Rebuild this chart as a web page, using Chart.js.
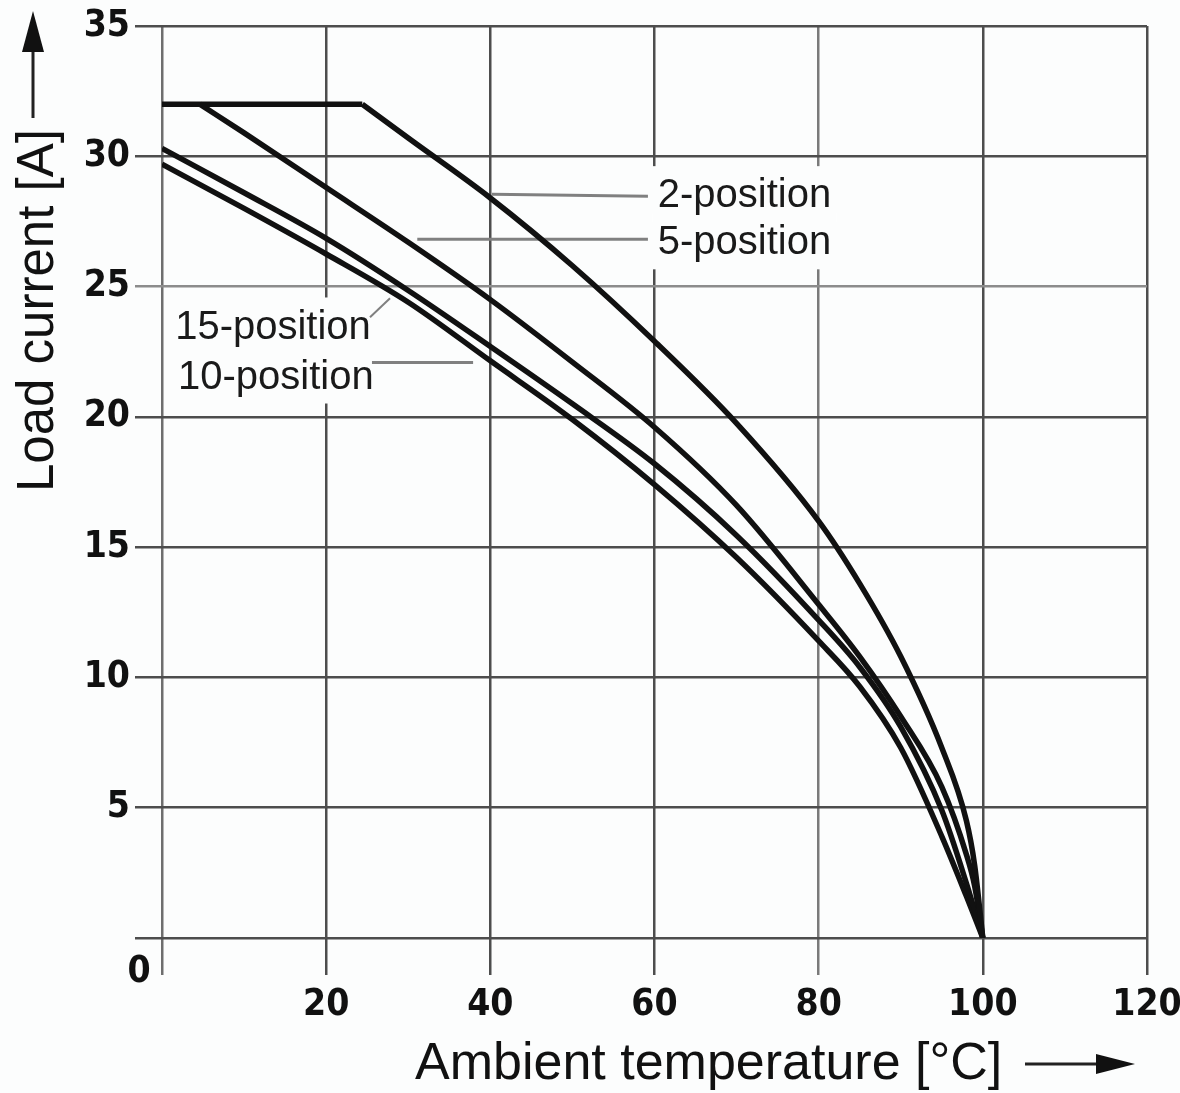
<!DOCTYPE html>
<html>
<head>
<meta charset="utf-8">
<script src="https://cdn.jsdelivr.net/npm/chart.js@4.4.1/dist/chart.umd.min.js"></script>
<style>
  html, body { margin: 0; padding: 0; background: #fcfdfd; }
  #myChart { display: block; }
</style>
</head>
<body>
<canvas id="myChart" width="1180" height="1093"></canvas>
<script>
// axis ranges
const xMin = 0, xMax = 120, xStep = 20;
const yMin = 0, yMax = 35, yStep = 5;

// current cap (flat part shared by 2- and 5-position)
const capX = [0, 24.4];
const capY = [32, 32];

// derating curves
const pos2X = [24.4, 30, 40, 50, 60, 70, 80, 85, 90, 95, 98, 99, 100];
const pos2Y = [32, 30.7, 28.4, 25.8, 22.9, 19.75, 16.0, 13.6, 10.8, 7.3, 4.5, 2.8, 0];

const pos5X = [4.6, 10, 20, 30, 40, 50, 60, 70, 80, 85, 90, 95, 98, 99, 100];
const pos5Y = [32, 30.9, 28.8, 26.7, 24.5, 22.1, 19.6, 16.6, 12.8, 10.8, 8.5, 5.8, 3.2, 2.0, 0];

const pos10X = [0, 10, 20, 30, 40, 50, 60, 70, 80, 85, 90, 95, 98, 100];
const pos10Y = [30.3, 28.6, 26.85, 24.85, 22.7, 20.5, 18.2, 15.45, 12.2, 10.4, 8.1, 4.9, 2.1, 0];

const pos15X = [0, 10, 20, 30, 40, 50, 60, 70, 80, 85, 90, 95, 98, 100];
const pos15Y = [29.7, 28.0, 26.25, 24.4, 22.15, 19.9, 17.4, 14.6, 11.4, 9.65, 7.3, 3.9, 1.6, 0];

// curve labels and their leader lines (data coordinates)
const labelNames = ['2-position', '5-position', '15-position', '10-position'];
const labelX = [60.4, 60.4, 1.6, 1.95];
const labelY = [28.47, 26.66, 23.43, 21.51];
const leadX0 = [40.2, 31.1, 25.34, 25.58];
const leadY0 = [28.54, 26.82, 23.82, 22.09];
const leadX1 = [59.2, 59.2, 27.78, 37.9];
const leadY1 = [28.47, 26.82, 24.55, 22.09];

const xTitle = 'Ambient temperature [°C]';
const yTitle = 'Load current [A]';

function pts(xs, ys) {
    return xs.map((x, i) => ({ x: x, y: ys[i] }));
}

const tickFont = {
    family: "'Liberation Sans Narrow', 'DejaVu Sans Condensed', 'Arial Narrow', sans-serif",
    size: 37,
    weight: 'bold'
};

function curve(data, smooth) {
    return {
        data: data,
        borderColor: '#111111',
        borderWidth: 5.5,
        pointRadius: 0,
        fill: false,
        tension: 0,
        cubicInterpolationMode: smooth ? 'monotone' : 'default',
        borderJoinStyle: 'round'
    };
}

const decorations = {
    id: 'decorations',
    beforeDatasetsDraw(chart) {
        const ctx = chart.ctx;
        const xs = chart.scales.x, ys = chart.scales.y;
        ctx.save();
        ctx.font = "40px 'Liberation Sans', Arial, sans-serif";
        // white boxes behind labels
        ctx.fillStyle = '#fcfdfd';
        labelNames.forEach((t, i) => {
            const px = xs.getPixelForValue(labelX[i]);
            const py = ys.getPixelForValue(labelY[i]);
            const w = ctx.measureText(t).width;
            ctx.fillRect(px - 5, py - 30, w + 10, 56);
        });
        // leader lines
        ctx.strokeStyle = '#808080';
        labelNames.forEach((t, i) => {
            ctx.lineWidth = i === 2 ? 2 : 3;
            ctx.beginPath();
            ctx.moveTo(xs.getPixelForValue(leadX0[i]), ys.getPixelForValue(leadY0[i]));
            ctx.lineTo(xs.getPixelForValue(leadX1[i]), ys.getPixelForValue(leadY1[i]));
            ctx.stroke();
        });
        // label text
        ctx.fillStyle = '#1a1a1a';
        ctx.textAlign = 'left';
        ctx.textBaseline = 'middle';
        labelNames.forEach((t, i) => {
            ctx.fillText(t, xs.getPixelForValue(labelX[i]), ys.getPixelForValue(labelY[i]));
        });
        ctx.restore();
    },
    afterDraw(chart) {
        const ctx = chart.ctx;
        const xs = chart.scales.x, ys = chart.scales.y;
        ctx.save();
        // origin label
        ctx.font = 'bold 37px ' + tickFont.family;
        ctx.fillStyle = '#111';
        ctx.textAlign = 'center';
        ctx.textBaseline = 'middle';
        ctx.fillText('0', xs.getPixelForValue(0) - 23, ys.getPixelForValue(0) + 34);

        // axis titles
        ctx.font = "52px 'Liberation Sans', Arial, sans-serif";
        ctx.textAlign = 'left';
        ctx.textBaseline = 'alphabetic';
        ctx.fillText(xTitle, 415, 1079);
        ctx.save();
        ctx.font = "51px 'Liberation Sans', Arial, sans-serif";
        ctx.translate(53, 492);
        ctx.rotate(-Math.PI / 2);
        ctx.fillText(yTitle, 0, 0);
        ctx.restore();

        // arrows
        ctx.strokeStyle = '#222';
        ctx.lineWidth = 3;
        ctx.beginPath();
        ctx.moveTo(33, 118);
        ctx.lineTo(33, 48);
        ctx.moveTo(1025, 1064);
        ctx.lineTo(1100, 1064);
        ctx.stroke();
        ctx.fillStyle = '#111';
        ctx.beginPath();
        ctx.moveTo(33, 11);
        ctx.lineTo(22, 52);
        ctx.lineTo(44, 52);
        ctx.closePath();
        ctx.fill();
        ctx.beginPath();
        ctx.moveTo(1135, 1064);
        ctx.lineTo(1096, 1054);
        ctx.lineTo(1096, 1074);
        ctx.closePath();
        ctx.fill();
        ctx.restore();
    }
};

let myChart = document.getElementById('myChart').getContext('2d');

let deratingChart = new Chart(myChart, {
    type: 'line',
    data: {
        datasets: [
            curve(pts(capX, capY), false),
            curve(pts(pos2X, pos2Y), true),
            curve(pts(pos5X, pos5Y), true),
            curve(pts(pos10X, pos10Y), true),
            curve(pts(pos15X, pos15Y), true)
        ]
    },
    options: {
        responsive: false,
        animation: false,
        devicePixelRatio: 1,
        layout: {
            padding: { top: 26, right: 33, left: 0, bottom: 0 }
        },
        plugins: {
            legend: { display: false },
            tooltip: { enabled: false }
        },
        scales: {
            x: {
                type: 'linear',
                min: xMin,
                max: xMax,
                afterFit(scale) {
                    scale.height = 155;
                    scale.paddingLeft = 0;
                    scale.paddingRight = 0;
                },
                border: { display: false },
                grid: {
                    color: c => (c.tick && c.tick.value === 80) ? '#7a7a7a' : (c.tick && c.tick.value === 0 ? '#6e6e6e' : '#4d4d4d'),
                    lineWidth: 2.5,
                    tickLength: 37
                },
                ticks: {
                    stepSize: xStep,
                    padding: 8,
                    color: '#111',
                    font: tickFont,
                    maxRotation: 0,
                    callback: v => v === 0 ? '' : v
                }
            },
            y: {
                type: 'linear',
                min: yMin,
                max: yMax,
                afterFit(scale) {
                    scale.width = 162;
                    scale.paddingTop = 0;
                    scale.paddingBottom = 0;
                },
                border: { display: false },
                grid: {
                    color: c => (c.tick && c.tick.value === 25) ? '#8c8c8c' : '#4d4d4d',
                    lineWidth: 2.5,
                    tickLength: 27
                },
                ticks: {
                    stepSize: yStep,
                    padding: 5,
                    color: '#111',
                    font: tickFont,
                    callback: v => v === 0 ? '' : v
                }
            }
        }
    },
    plugins: [decorations]
});
</script>
</body>
</html>
